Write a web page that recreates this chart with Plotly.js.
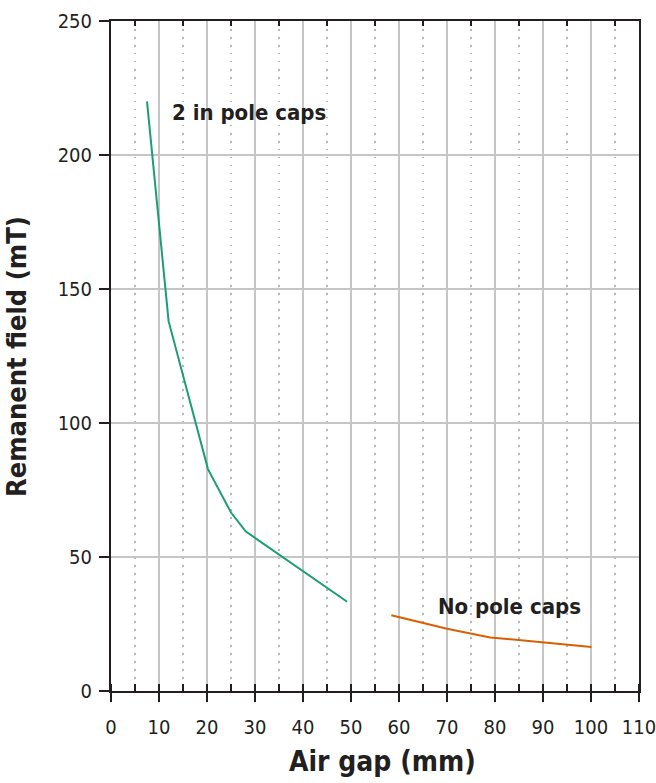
<!DOCTYPE html>
<html>
<head>
<meta charset="utf-8">
<script src="https://cdn.plot.ly/plotly-3.0.1.min.js"></script>
<style>
html,body{margin:0;padding:0;background:#fff;}
#chart{width:656px;height:783px;}
</style>
</head>
<body>
<div id="chart"></div>
<script>
// Data
var gapWithCaps = [7.5, 12, 20.2, 25, 28.1, 49.2];
var fieldWithCaps = [220, 138, 82.8, 66.6, 59.5, 33.3];
var gapNoCaps = [58.4, 70, 79, 100.1];
var fieldNoCaps = [28.3, 23.2, 20.0, 16.4];
var labelWithCaps = "2 in pole caps";
var labelNoCaps = "No pole caps";
var xTitle = "Air gap (mm)";
var yTitle = "Remanent field (mT)";
var xTickVals = [0, 10, 20, 30, 40, 50, 60, 70, 80, 90, 100, 110];
var yTickVals = [0, 50, 100, 150, 200, 250];
var topMinorTicks = [5, 15, 25, 35, 45, 55, 65, 75, 85, 95, 105];

var ink = "#231f20";
var narrow = "Liberation Sans Narrow, DejaVu Sans Condensed, Arial Narrow, sans-serif";

var traces = [
  {x: gapWithCaps, y: fieldWithCaps, type: "scatter", mode: "lines",
   line: {color: "#1b9e77", width: 2}, hoverinfo: "x+y", showlegend: false},
  {x: gapNoCaps, y: fieldNoCaps, type: "scatter", mode: "lines",
   line: {color: "#d95f02", width: 2}, hoverinfo: "x+y", showlegend: false},
  {x: [], y: [], xaxis: "x2", type: "scatter", mode: "lines", showlegend: false, hoverinfo: "skip"}
];

var layout = {
  width: 656, height: 783,
  margin: {l: 111, r: 17, t: 21, b: 92, pad: 0},
  paper_bgcolor: "#fff", plot_bgcolor: "#fff",
  font: {family: narrow, color: ink, size: 20},
  showlegend: false,
  xaxis: {
    range: [0, 110], tickvals: xTickVals, ticktext: xTickVals.map(String),
    showgrid: true, gridcolor: "#c6c6c6", gridwidth: 1.5,
    zeroline: false, showline: true, linecolor: ink, linewidth: 2, mirror: true,
    ticks: "outside", ticklen: 9, tickwidth: 2, tickcolor: ink,
    ticklabelstandoff: 8, ticklabeloverflow: "allow",
    tickfont: {family: narrow, size: 20, color: ink},
    minor: {dtick: 5, tick0: 0, ticks: "inside", ticklen: 7, tickwidth: 2, tickcolor: ink,
            showgrid: true, gridcolor: "#b5b5b5", gridwidth: 1.3, griddash: "1.5px,6.5px"}
  },
  xaxis2: {
    range: [0, 110], overlaying: "x", side: "top", tickvals: topMinorTicks,
    showticklabels: false, showgrid: false, zeroline: false, showline: false,
    ticks: "inside", ticklen: 5, tickwidth: 2, tickcolor: ink
  },
  yaxis: {
    range: [0, 250], tickvals: yTickVals, ticktext: yTickVals.map(String),
    showgrid: true, gridcolor: "#c6c6c6", gridwidth: 1.5,
    zeroline: false, showline: true, linecolor: ink, linewidth: 2, mirror: true,
    ticks: "outside", ticklen: 10, tickwidth: 2, tickcolor: ink,
    ticklabelstandoff: 3, ticklabeloverflow: "allow",
    tickfont: {family: narrow, size: 20, color: ink}
  },
  annotations: [
    {x: 12.3, y: 215.7, xref: "x", yref: "y", text: labelWithCaps, showarrow: false,
     xanchor: "left", yanchor: "middle",
     font: {family: narrow, size: 22, color: ink, weight: "bold"}},
    {x: 67.7, y: 31.5, xref: "x", yref: "y", text: labelNoCaps, showarrow: false,
     xanchor: "left", yanchor: "middle",
     font: {family: narrow, size: 22, color: ink, weight: "bold"}},
    {x: 0.515, y: -0.105, xref: "paper", yref: "paper", text: xTitle, showarrow: false,
     xanchor: "center", yanchor: "middle",
     font: {family: narrow, size: 28, color: ink, weight: "bold"}},
    {x: -0.18, y: 0.5, xref: "paper", yref: "paper", text: yTitle, showarrow: false,
     textangle: -90, xanchor: "center", yanchor: "middle",
     font: {family: narrow, size: 27, color: ink, weight: "bold"}}
  ]
};

Plotly.newPlot("chart", traces, layout, {displayModeBar: false, staticPlot: true});
</script>
</body>
</html>
